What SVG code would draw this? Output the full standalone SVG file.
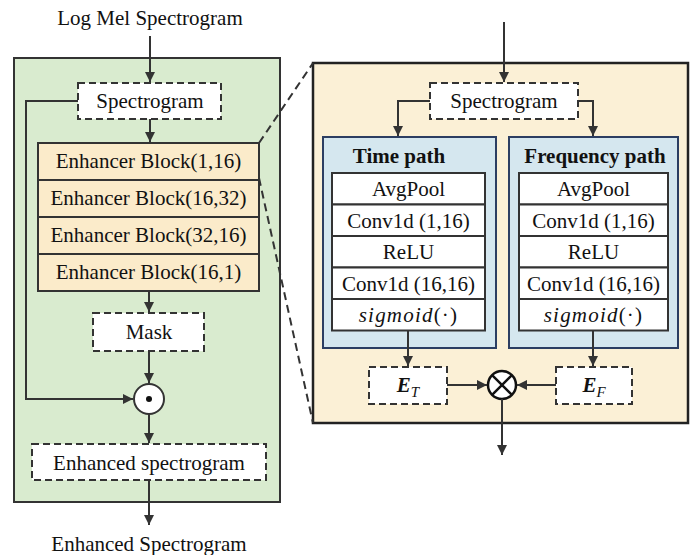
<svg xmlns="http://www.w3.org/2000/svg" width="697" height="555" viewBox="0 0 697 555">
<defs>
<marker id="ah" viewBox="0 0 10 10" refX="10" refY="5" markerWidth="5.5" markerHeight="5" orient="auto" markerUnits="strokeWidth"><path d="M0,0 L10,5 L0,10 z" fill="#333"/></marker>
<style>
text{font-family:"Liberation Serif","Times New Roman",serif;font-size:21px;fill:#111;text-anchor:middle}
.b{font-weight:bold}
.ln{fill:none;stroke:#333;stroke-width:2}
.ar{fill:none;stroke:#333;stroke-width:2;marker-end:url(#ah)}
.dash{fill:#fff;stroke:#333;stroke-width:2;stroke-dasharray:7,4}
.blk{fill:#fbebca;stroke:#333;stroke-width:2}
.cell{fill:#fff;stroke:#333;stroke-width:2}
.path{fill:#d5e7ef;stroke:#2c3e62;stroke-width:2}
</style>
</defs>
<rect x="0" y="0" width="697" height="555" fill="#fff"/>
<g id="left-panel"><rect x="14" y="58" width="266" height="444" fill="#d9ebcf" stroke="#333" stroke-width="2"/></g>
<g id="right-panel"><rect x="313" y="63" width="375" height="360" fill="#fbf0d6" stroke="#222" stroke-width="2.5"/></g>
<text x="150" y="25">Log Mel Spectrogram</text>
<text x="149" y="551">Enhanced Spectrogram</text>
<g id="spec-left"><rect class="dash" x="78" y="83" width="143" height="36"/><text x="150" y="108">Spectrogram</text></g>
<g id="eb1"><rect class="blk" x="38" y="143" width="221" height="37"/><text x="148.5" y="168">Enhancer Block(1,16)</text></g>
<g id="eb2"><rect class="blk" x="38" y="180" width="221" height="37"/><text x="148.5" y="205">Enhancer Block(16,32)</text></g>
<g id="eb3"><rect class="blk" x="38" y="217" width="221" height="37"/><text x="148.5" y="242">Enhancer Block(32,16)</text></g>
<g id="eb4"><rect class="blk" x="38" y="254" width="221" height="37"/><text x="148.5" y="279">Enhancer Block(16,1)</text></g>
<g id="mask"><rect class="dash" x="93" y="313" width="111" height="38"/><text x="149" y="339">Mask</text></g>
<g id="odot"><circle cx="149" cy="399" r="15" fill="#fff" stroke="#333" stroke-width="2"/><circle cx="149" cy="399" r="3" fill="#111"/></g>
<g id="enh"><rect class="dash" x="32" y="444" width="234" height="36"/><text x="149" y="470">Enhanced spectrogram</text></g>
<g id="spec-right"><rect class="dash" x="430" y="83" width="148" height="36"/><text x="504" y="108">Spectrogram</text></g>
<g id="time-path"><rect class="path" x="323" y="137" width="173" height="211"/><text class="b" x="399" y="163">Time path</text>
<rect class="cell" x="332" y="173" width="153" height="31.5"/><text x="408.5" y="196">AvgPool</text>
<rect class="cell" x="332" y="204.5" width="153" height="31.5"/><text x="408.5" y="228">Conv1d (1,16)</text>
<rect class="cell" x="332" y="236" width="153" height="31.5"/><text x="408.5" y="259">ReLU</text>
<rect class="cell" x="332" y="267.5" width="153" height="31.5"/><text x="408.5" y="291">Conv1d (16,16)</text>
<rect class="cell" x="332" y="299" width="153" height="31.5"/><text x="408.5" y="322" letter-spacing="1.2"><tspan font-style="italic">sigmoid</tspan>(·)</text></g>
<g id="freq-path"><rect class="path" x="509" y="137" width="169" height="211"/><text class="b" x="595" y="163">Frequency path</text>
<rect class="cell" x="519" y="173" width="149" height="31.5"/><text x="593.5" y="196">AvgPool</text>
<rect class="cell" x="519" y="204.5" width="149" height="31.5"/><text x="593.5" y="228">Conv1d (1,16)</text>
<rect class="cell" x="519" y="236" width="149" height="31.5"/><text x="593.5" y="259">ReLU</text>
<rect class="cell" x="519" y="267.5" width="149" height="31.5"/><text x="593.5" y="291">Conv1d (16,16)</text>
<rect class="cell" x="519" y="299" width="149" height="31.5"/><text x="593.5" y="322" letter-spacing="1.2"><tspan font-style="italic">sigmoid</tspan>(·)</text></g>
<g id="et"><rect class="dash" x="369" y="367" width="78" height="37"/><text x="408" y="392" class="b" font-style="italic">E<tspan font-size="15" font-weight="normal" dy="5">T</tspan></text></g>
<g id="ef"><rect class="dash" x="556" y="367" width="76" height="37"/><text x="594" y="392" class="b" font-style="italic">E<tspan font-size="15" font-weight="normal" dy="5">F</tspan></text></g>
<g id="otimes"><circle cx="502" cy="385" r="14" fill="#fff" stroke="#111" stroke-width="2.5"/><path d="M492.1,375.1 L511.9,394.9 M511.9,375.1 L492.1,394.9" stroke="#111" stroke-width="2.5"/></g>
<g id="connectors">
<line class="ar" x1="150" y1="36" x2="150" y2="82"/>
<line class="ar" x1="150" y1="119" x2="150" y2="142"/>
<polyline class="ar" points="78,101 26,101 26,399 133,399"/>
<line class="ar" x1="149" y1="291" x2="149" y2="312"/>
<line class="ar" x1="149" y1="351" x2="149" y2="383"/>
<line class="ar" x1="149" y1="414" x2="149" y2="443"/>
<line class="ar" x1="149" y1="480" x2="149" y2="525"/>
<line class="ln" x1="259" y1="143" x2="313" y2="63" stroke-dasharray="8,5"/>
<line class="ln" x1="259" y1="178" x2="313" y2="423" stroke-dasharray="8,5"/>
<line class="ar" x1="504" y1="22" x2="504" y2="82"/>
<polyline class="ar" points="430,101 398,101 398,136"/>
<polyline class="ar" points="578,101 593,101 593,136"/>
<line class="ar" x1="408" y1="331" x2="408" y2="366"/>
<line class="ar" x1="593" y1="331" x2="593" y2="366"/>
<line class="ar" x1="447" y1="385" x2="487" y2="385"/>
<line class="ar" x1="556" y1="385" x2="517" y2="385"/>
<line class="ar" x1="502" y1="399" x2="502" y2="455"/>
</g>
</svg>
